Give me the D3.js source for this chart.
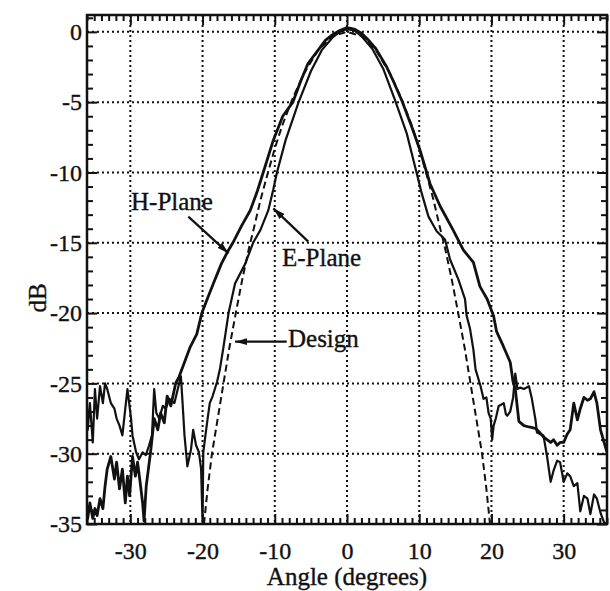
<!DOCTYPE html>
<html>
<head>
<meta charset="utf-8">
<script src="https://cdn.jsdelivr.net/npm/d3@7"></script>
<style>
  body { margin: 0; background: #fff; }
  svg text { font-family: "Liberation Serif", "Times New Roman", serif; fill: #111; stroke: #111; stroke-width: 0.35; }
  .tick line { stroke: #111; stroke-width: 2; }
  .grid line { stroke: #111; stroke-width: 2; stroke-dasharray: 2,3; }
</style>
</head>
<body>
<svg id="chart" width="610" height="591"></svg>
<script>
// tick values
var xMajor = [-30, -20, -10, 0, 10, 20, 30];
var yMajor = [0, -5, -10, -15, -20, -25, -30, -35];

// [angle (deg), level (dB)]
var hPlane = [
  [-36.1,-34.2],[-35.9,-34.6],[-35.6,-33.5],[-35.2,-34.6],[-34.9,-33.9],[-34.6,-34.4],[-34.2,-33.2],
  [-33.8,-33.9],[-33.5,-32.3],[-33.2,-31.1],[-32.7,-30.2],[-32.2,-31.8],[-31.9,-30.6],[-31.5,-32.5],
  [-31.1,-31.1],[-30.7,-33.5],[-30.4,-31.6],[-30.1,-33.0],[-29.7,-30.2],[-29.3,-31.6],[-29.0,-30.6],
  [-28.7,-31.8],[-28.3,-33.5],[-28.1,-34.8],[-27.8,-32.3],[-27.5,-31.1],[-27.2,-29.9],[-26.7,-27.5],
  [-26.2,-28.3],[-25.8,-27.1],[-25.3,-27.8],[-24.9,-25.9],[-24.4,-26.6],[-23.7,-24.95],
  [-23.3,-24.6],[-22.5,-23.5],[-21.7,-22.4],[-20.8,-21.5],[-20.1,-20],[-19.2,-18.8],[-18.5,-17.9],
  [-17.4,-16.5],[-16.5,-15.6],[-15.8,-15],[-14.6,-13.8],[-13.4,-12.7],[-12.4,-11.3],[-11.6,-10],
  [-10.2,-7.7],[-8.9,-6],[-7.5,-5],[-6.4,-3.5],[-5.4,-2.25],[-4,-1.3],[-3,-0.6],[-2,-0.2],[-1,0.1],
  [0,0.3],[1,0.2],[2,-0.1],[3,-0.6],[4,-1.2],[5.5,-2.5],[6.5,-3.6],[7.6,-4.9],[9.0,-6.8],[10.1,-8.4],
  [11.5,-10.8],[12.9,-12.4],[14.7,-14.1],[16.1,-15.5],[17.5,-16.4],[18.4,-18.1],[19.4,-19.0],
  [20.3,-20.2],[20.7,-21.3],[21.6,-22.3],[22.6,-23.5],[23.0,-24.9],[23.3,-25.4],
  [23.8,-27.7],[24.5,-28.0],[25.2,-28.1],[26.1,-28.2],[26.7,-28.5],[27.2,-28.8],[27.7,-29.0],
  [28.2,-29.2],[28.6,-29.0],[29.1,-29.4],[29.5,-29.2],[30.0,-29.2],[30.5,-28.6],[30.9,-28.3],
  [31.4,-26.4],[31.9,-27.6],[32.3,-26.8],[32.8,-26.0],[33.3,-26.2],[33.7,-26.1],[34.2,-25.6],
  [34.6,-26.4],[35.1,-28.3],[35.6,-29.2],[36,-29.9]
];

var ePlane = [
  [-36.1,-25.4],[-35.9,-28.3],[-35.6,-26.4],[-35.2,-29.2],[-34.9,-25.4],[-34.6,-27.5],[-34.2,-25.2],
  [-33.8,-26.4],[-33.5,-25.0],[-33.2,-25.4],[-32.7,-26.4],[-32.2,-26.8],[-31.9,-27.5],[-31.5,-28.0],
  [-31.1,-28.7],[-30.7,-26.8],[-30.4,-25.4],[-29.9,-27.5],[-29.7,-28.7],[-29.2,-29.9],[-28.8,-30.4],
  [-28.3,-29.9],[-27.85,-30.1],[-27.4,-29.4],[-27.0,-28.7],[-26.7,-25.4],[-26.4,-27.1],[-26.0,-27.5],
  [-25.5,-26.6],[-25.1,-26.8],[-24.6,-26.1],[-23.9,-26.4],[-23.0,-24.5],[-22.8,-26.1],[-22.5,-28.7],
  [-22.1,-30.9],[-21.6,-29.7],[-21.3,-28.3],[-20.9,-29.4],[-20.5,-29.9],[-20.2,-31.1],[-20.0,-34.9],
  [-19.9,-29.9],[-19.6,-28.7],[-19.3,-27.5],[-19.0,-26.4],[-18.6,-25.9],[-18.0,-24.9],[-17.6,-24.0],
  [-17.1,-22.4],[-16.4,-20],[-15.5,-17.9],[-14.1,-16.5],[-13.0,-15],[-12.0,-14.1],[-10.9,-12.7],
  [-10.2,-11.2],[-9.7,-10],[-8.5,-7.7],[-6.7,-5],[-5,-2.8],[-3.5,-1.3],[-2,-0.4],[-1,0],[0,0.2],
  [1,0.1],[2,-0.3],[3.5,-1.2],[5,-2.6],[6.65,-4.86],[8.27,-7.22],[9.42,-9.58],[10.34,-11.47],
  [11.27,-13.12],[12.42,-14.18],[13.57,-14.77],[14.27,-16.19],[15.42,-17.6],[16.34,-19.0],
  [16.57,-20.2],[17.03,-21.1],[17.5,-22.6],[17.8,-24.0],
  [18.5,-25.2],[18.9,-26.1],[19.3,-26.0],[19.6,-27.1],[19.9,-27.5],[20.1,-29.0],[20.3,-28.0],
  [20.6,-27.5],[21.0,-26.6],[21.4,-26.5],[21.7,-26.4],[22.0,-27.2],[22.2,-27.3],[22.6,-27.0],
  [23.0,-26.0],[23.3,-24.3],[23.6,-25.4],[24.0,-25.3],[24.5,-25.4],[25.2,-25.2],[25.6,-26.1],
  [26.1,-27.6],[26.3,-28.5],[27.2,-28.7],[27.7,-30.2],[28.2,-32.0],[28.6,-31.2],[29.1,-30.5],
  [29.5,-30.6],[30.0,-32.0],[30.5,-31.4],[30.9,-31.6],[31.4,-32.3],[31.9,-32.1],[32.3,-34.1],
  [32.8,-33.0],[33.3,-33.2],[33.7,-34.3],[34.2,-32.9],[34.6,-33.2],[35.1,-34.2],[35.6,-34.9],[36,-35]
];

var design = [
  [-19.8,-35],[-19.3,-32.5],[-18.7,-30],[-17.9,-27.5],[-17.1,-25],[-16.3,-22.5],[-15.4,-20],
  [-14.5,-17.6],[-13.5,-15.2],[-13,-14.2],[-12,-12.0],[-11,-10.1],[-10,-8.3],[-9,-6.7],[-7.5,-4.7],
  [-6,-3.0],[-4,-1.3],[-2,-0.3],[0,0],[2,-0.3],[4,-1.3],[6,-3.0],[7.5,-4.7],[9,-6.7],[10,-8.3],
  [11,-10.1],[12,-12.0],[13,-14.2],[13.5,-15.2],[14.5,-17.6],[15.4,-20],[16.3,-22.5],[17.1,-25],
  [17.9,-27.5],[18.7,-30],[19.3,-32.5],[19.8,-35]
];

var svg = d3.select("#chart");
var x = d3.scaleLinear().domain([-36, 36]).range([87, 607]);
var y = d3.scaleLinear().domain([-35, 1.2]).range([524, 15]);

var xMinor = d3.range(-36, 37, 1).filter(function(d){ return xMajor.indexOf(d) < 0; });
var yMinor = d3.range(-35, 2, 1).filter(function(d){ return yMajor.indexOf(d) < 0; });

// dotted grid
var grid = svg.append("g").attr("class", "grid");
grid.selectAll("line.v").data(xMajor).enter().append("line")
  .attr("x1", x).attr("x2", x).attr("y1", y(1.2)).attr("y2", y(-35));
grid.selectAll("line.h").data(yMajor.filter(function(d){ return d > -35; })).enter().append("line")
  .attr("x1", x(-36)).attr("x2", x(36)).attr("y1", y).attr("y2", y);

function clean(g){
  g.select(".domain").remove();
  g.attr("font-family", null).attr("font-size", 24);
}

// inward ticks on all four sides
svg.append("g").attr("transform", "translate(0,524)")
  .call(d3.axisBottom(x).tickValues(xMinor).tickSize(-6).tickFormat("")).call(clean);
svg.append("g").attr("transform", "translate(0,524)")
  .call(d3.axisBottom(x).tickValues(xMajor).tickSizeInner(-10).tickSizeOuter(0).tickPadding(18)
    .tickFormat(function(d){ return String(d); })).call(clean);
svg.append("g").attr("transform", "translate(0,15)")
  .call(d3.axisTop(x).tickValues(xMinor).tickSize(-6).tickFormat("")).call(clean);
svg.append("g").attr("transform", "translate(0,15)")
  .call(d3.axisTop(x).tickValues(xMajor).tickSize(-10).tickFormat("")).call(clean);
svg.append("g").attr("transform", "translate(87,0)")
  .call(d3.axisLeft(y).tickValues(yMinor).tickSize(-6).tickFormat("")).call(clean);
svg.append("g").attr("transform", "translate(87,0)")
  .call(d3.axisLeft(y).tickValues(yMajor).tickSizeInner(-10).tickSizeOuter(0).tickPadding(5)
    .tickFormat(function(d){ return String(d); })).call(clean);
svg.append("g").attr("transform", "translate(607,0)")
  .call(d3.axisRight(y).tickValues(yMinor).tickSize(-6).tickFormat("")).call(clean);
svg.append("g").attr("transform", "translate(607,0)")
  .call(d3.axisRight(y).tickValues(yMajor).tickSize(-10).tickFormat("")).call(clean);

svg.append("clipPath").attr("id", "plot-clip").append("rect")
  .attr("x", 87).attr("y", 15).attr("width", 520).attr("height", 509);

var line = d3.line().x(function(d){ return x(d[0]); }).y(function(d){ return y(d[1]); });
var curves = svg.append("g").attr("clip-path", "url(#plot-clip)").attr("fill", "none").attr("stroke", "#111");

curves.append("path").datum(design).attr("d", line)
  .attr("stroke-width", 2).attr("stroke-dasharray", "7,4");
curves.append("path").datum(ePlane).attr("d", line)
  .attr("stroke-width", 2.2).attr("stroke-linejoin", "round");
curves.append("path").datum(hPlane).attr("d", line)
  .attr("stroke-width", 2.8).attr("stroke-linejoin", "round");

// frame
svg.append("rect").attr("x", 87).attr("y", 15).attr("width", 520).attr("height", 509)
  .attr("fill", "none").attr("stroke", "#111").attr("stroke-width", 2.5);

// annotations with arrows
svg.append("defs").append("marker").attr("id", "head")
  .attr("viewBox", "0 -4 12 8").attr("refX", 12).attr("refY", 0)
  .attr("markerUnits", "userSpaceOnUse").attr("markerWidth", 12).attr("markerHeight", 8)
  .attr("orient", "auto")
  .append("path").attr("d", "M0,-3.5L12,0L0,3.5Z").attr("fill", "#111");

function note(text, tx, ty, from, to){
  svg.append("text").attr("x", x(tx)).attr("y", y(ty)).attr("font-size", 25).text(text);
  svg.append("line")
    .attr("x1", x(from[0])).attr("y1", y(from[1]))
    .attr("x2", x(to[0])).attr("y2", y(to[1]))
    .attr("stroke", "#111").attr("stroke-width", 2.2).attr("marker-end", "url(#head)");
}
note("H-Plane", -29.9, -12.67, [-21.97, -13.14], [-16.4, -15.75]);
note("E-Plane", -9.0, -16.65, [-5.36, -14.92], [-10.2, -12.55]);
note("Design", -8.17, -22.4, [-8.35, -22.03], [-15.5, -22.03]);

// axis titles
svg.append("text").attr("x", 347).attr("y", 585).attr("text-anchor", "middle")
  .attr("font-size", 25).text("Angle (degrees)");
svg.append("text").attr("transform", "translate(46,298) rotate(-90)").attr("text-anchor", "middle")
  .attr("font-size", 25).text("dB");
</script>
</body>
</html>
